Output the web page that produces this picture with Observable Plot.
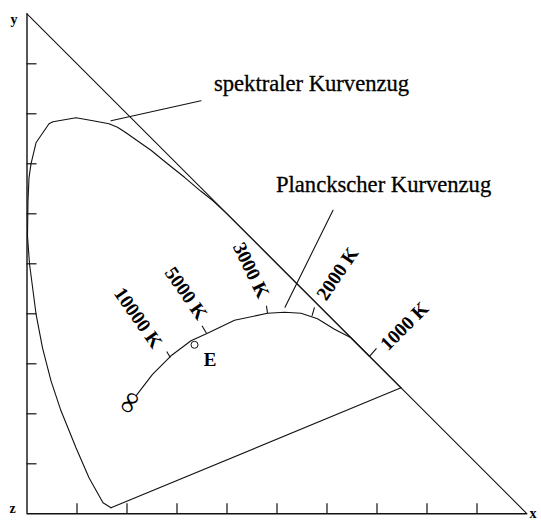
<!DOCTYPE html>
<html>
<head>
<meta charset="utf-8">
<script src="https://cdn.jsdelivr.net/npm/d3@7"></script>
<script src="https://cdn.jsdelivr.net/npm/@observablehq/plot@0.6"></script>
<style>
  html, body { margin: 0; padding: 0; background: #fff; }
  svg { display: block; overflow: visible; }
</style>
</head>
<body>
<div id="chart"></div>
<script>
// Spectral locus, chromaticity coordinates
const spectralLocus = [
  [0.168,0.012],[0.152,0.022],[0.124,0.072],[0.098,0.132],[0.068,0.206],[0.048,0.266],
  [0.031,0.332],[0.018,0.400],[0.005,0.500],[0.001,0.556],[0.002,0.626],[0.004,0.672],
  [0.008,0.700],[0.018,0.742],[0.044,0.780],[0.052,0.784],[0.098,0.792],[0.132,0.786],
  [0.148,0.783],[0.164,0.780],[0.181,0.773],[0.198,0.762],[0.215,0.750],[0.248,0.727],
  [0.281,0.700],[0.315,0.673],[0.348,0.645],[0.372,0.626],[0.400,0.600],[0.500,0.500],
  [0.600,0.400],[0.660,0.340],[0.700,0.300],[0.748,0.252]
];
// Purple line closing the locus
const purpleLine = [[0.748,0.252],[0.168,0.012]];
// Planckian locus
const planckLocus = [
  [0.218,0.236],[0.251,0.279],[0.288,0.316],[0.328,0.346],[0.361,0.361],[0.415,0.387],
  [0.481,0.401],[0.515,0.403],[0.548,0.401],[0.581,0.390],[0.615,0.369],[0.648,0.352],
  [0.684,0.316]
];
// Temperature marks: point on curve, tick tip, label
const tempNames  = ["10000 K","5000 K","3000 K","2000 K","1000 K"];
const tempBase   = [[0.2866,0.3127],[0.359,0.361],[0.481,0.401],[0.570,0.396],[0.685,0.315]];
const tempTip    = [[0.2794,0.3247],[0.350,0.376],[0.479,0.416],[0.575,0.413],[0.699,0.331]];
const tempLabelPos = [[0.222,0.392],[0.318,0.441],[0.448,0.487],[0.621,0.480],[0.755,0.375]];
const tempLabelAngle = [55, 55, 64, -56, -45];
// Triangle edge x + y = 1
const diagonal = [[0,1],[1,0]];
// Axis tick values
const axisTicks = [0.1,0.2,0.3,0.4,0.5,0.6,0.7,0.8,0.9];
const tickLen = 0.02;
// Axis letters
const axisLetters = [
  {label:"x", x:1.012, y:0.000},
  {label:"y", x:-0.026, y:0.989},
  {label:"z", x:-0.029, y:0.011}
];
// Equal-energy point E
const pointE = [{x:0.335, y:0.338}];
const labelE = [{label:"E", x:0.366, y:0.307}];
const labelInf = [{label:"∞", x:0.204, y:0.223}];
// Annotation texts and their pointer lines
const annotations = [
  {label:"spektraler Kurvenzug", x:0.374, y:0.860},
  {label:"Planckscher Kurvenzug", x:0.498, y:0.658}
];
const pointers = [
  [[0.168,0.786],[0.348,0.826]],
  [[0.516,0.413],[0.612,0.607]]
];

const toObj = p => ({x:p[0], y:p[1]});
const temps = tempNames.map((n,i) => ({
  name:n, x1:tempBase[i][0], y1:tempBase[i][1], x2:tempTip[i][0], y2:tempTip[i][1],
  lx:tempLabelPos[i][0], ly:tempLabelPos[i][1], rot:tempLabelAngle[i]
}));

const serif = "Liberation Serif, Times New Roman, serif";
const lineStyle = {stroke:"#111", strokeWidth:1.1};

const marks = [
  // axes
  Plot.ruleY([0], {x1:0, x2:1, stroke:"#111", strokeWidth:1.4}),
  Plot.ruleX([0], {y1:0, y2:1, stroke:"#111", strokeWidth:1.4}),
  Plot.ruleX(axisTicks, {x:d=>d, y1:0, y2:tickLen, stroke:"#111", strokeWidth:1.2}),
  Plot.ruleY(axisTicks, {y:d=>d, x1:0, x2:tickLen, stroke:"#111", strokeWidth:1.2}),
  Plot.line(diagonal.map(toObj), {x:"x", y:"y", ...lineStyle}),
  // loci
  Plot.line(spectralLocus.map(toObj), {x:"x", y:"y", ...lineStyle}),
  Plot.line(purpleLine.map(toObj), {x:"x", y:"y", ...lineStyle}),
  Plot.line(planckLocus.map(toObj), {x:"x", y:"y", ...lineStyle}),
  Plot.link(temps, {x1:"x1", y1:"y1", x2:"x2", y2:"y2", ...lineStyle}),
  ...temps.map(t => Plot.text([t], {x:"lx", y:"ly", text:"name", rotate:t.rot,
      fontFamily:serif, fontWeight:"bold", fontSize:19.5, fill:"#000", textAnchor:"middle"})),
  // pointer lines
  ...pointers.map(p => Plot.line(p.map(toObj), {x:"x", y:"y", ...lineStyle})),
  Plot.text(annotations, {x:"x", y:"y", text:"label", textAnchor:"start",
      fontFamily:serif, fontSize:22.6, fill:"#000", stroke:"#000", strokeWidth:0.3}),
  // E point
  Plot.dot(pointE, {x:"x", y:"y", r:3.5, stroke:"#111", fill:"#fff", strokeWidth:1}),
  Plot.text(labelE, {x:"x", y:"y", text:"label", fontFamily:serif, fontWeight:"bold", fontSize:19, fill:"#000"}),
  Plot.text(labelInf, {x:"x", y:"y", text:"label", fontFamily:serif, fontWeight:"bold", fontSize:30, fill:"#000", rotate:-60}),
  // axis letters
  Plot.text(axisLetters, {x:"x", y:"y", text:"label", fontFamily:serif, fontWeight:"bold", fontSize:14, fill:"#000"})
];

const chart = Plot.plot({
  width: 541,
  height: 520,
  marginLeft: 26.5,
  marginRight: 14.5,
  marginTop: 13.3,
  marginBottom: 6.7,
  x: {domain:[0,1], axis:null},
  y: {domain:[0,1], axis:null},
  style: {background:"#fff", overflow:"visible"},
  marks
});
document.getElementById("chart").appendChild(chart);
</script>
</body>
</html>
